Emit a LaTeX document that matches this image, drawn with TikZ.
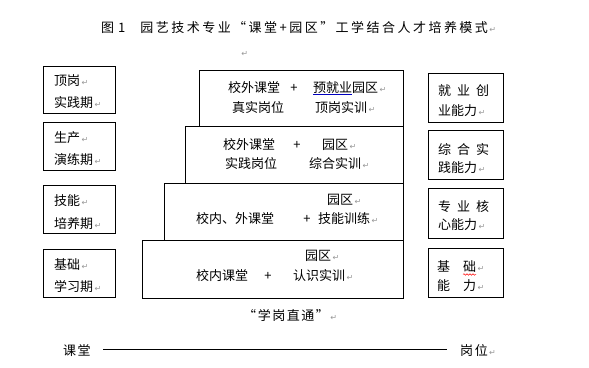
\documentclass[tikz,border=0pt]{standalone}
\usepackage{fontspec}
\setmainfont{Noto Sans CJK SC}
\newfontfamily\titlefont[LetterSpace=19]{Noto Sans CJK SC}
\newfontfamily\widefont[LetterSpace=12]{Noto Sans CJK SC}
\newfontfamily\markfont{DejaVu Sans}
\usetikzlibrary{decorations.pathmorphing}
\definecolor{retgray}{RGB}{150,150,150}
\newcommand\rmk{{\markfont\fontsize{8}{8}\selectfont\color{retgray}\,↵}}
\begin{document}
\begin{tikzpicture}[x=1pt,y=-1pt,
  box/.style={draw, line width=0.8pt, inner sep=0pt, anchor=north west},
  txt/.style={inner sep=0pt, anchor=base west, font=\fontsize{13}{15}\selectfont},
  wtxt/.style={inner sep=0pt, anchor=base west, font=\widefont\fontsize{13}{15}\selectfont},
  ttxt/.style={inner sep=0pt, anchor=base west, font=\titlefont\fontsize{13}{15}\selectfont},
  plus/.style={inner sep=0pt, anchor=base, font=\fontsize{13}{15}\selectfont},
  axis/.style={line width=0.8pt}]
\useasboundingbox (0,0) rectangle (589,367);

% title
\node[ttxt] (title) at (101,32) {图\hspace{4pt}1\hspace{15pt}园艺技术专业“课堂+园区”工学结合人才培养模式\rmk};
\node[inner sep=0pt] (m0) at (244,54) {\rmk};

% stair boxes
\node[box, minimum width=204pt, minimum height=56pt] (sA) at (199,70) {};
\node[box, minimum width=218pt, minimum height=57pt] (sB) at (185,126) {};
\node[box, minimum width=239pt, minimum height=57pt] (sC) at (164,183) {};
\node[box, minimum width=261pt, minimum height=58pt] (sD) at (142,240) {};

% left boxes
\node[box, minimum width=72pt, minimum height=47pt] (L1) at (43,66) {};
\node[box, minimum width=72pt, minimum height=48pt] (L2) at (43,122) {};
\node[box, minimum width=72pt, minimum height=48pt] (L3) at (43,185) {};
\node[box, minimum width=72pt, minimum height=48pt] (L4) at (43,249) {};

% right boxes
\node[box, minimum width=75pt, minimum height=49pt] (R1) at (428,73) {};
\node[box, minimum width=75pt, minimum height=49pt] (R2) at (428,130) {};
\node[box, minimum width=75pt, minimum height=50pt] (R3) at (428,188) {};
\node[box, minimum width=75pt, minimum height=49pt] (R4) at (428,248) {};

% box A texts
\node[txt] (a1) at (228,92) {校外课堂};
\node[plus] (a2) at (294,92) {+};
\node[txt] (a3) at (313,92) {预就业园区\rmk};
\node[txt] (a4) at (232,112) {真实岗位};
\node[txt] (a5) at (315,112) {顶岗实训\rmk};
\draw[blue!75!black, line width=0.6pt] (313,94.5) -- (352,94.5);

% box B texts
\node[txt] (b1) at (223,149) {校外课堂};
\node[plus] (b2) at (297,149) {+};
\node[txt] (b3) at (322,149) {园区\rmk};
\node[txt] (b4) at (225,168) {实践岗位};
\node[txt] (b5) at (309,168) {综合实训\rmk};

% box C texts
\node[txt] (c1) at (327,204) {园区\rmk};
\node[txt] (c2) at (196,223) {校内、外课堂};
\node[plus] (c3) at (307,223) {+};
\node[txt] (c4) at (318,223) {技能训练\rmk};

% box D texts
\node[txt] (d1) at (305,260) {园区\rmk};
\node[txt] (d2) at (196,280) {校内课堂};
\node[plus] (d3) at (268,280) {+};
\node[txt] (d4) at (293,280) {认识实训\rmk};

% left texts
\node[txt] (l1) at (54,85) {顶岗\rmk};
\node[txt] (l2) at (54,107) {实践期\rmk};
\node[txt] (l3) at (54,142) {生产\rmk};
\node[txt] (l4) at (54,164) {演练期\rmk};
\node[txt] (l5) at (54,205) {技能\rmk};
\node[txt] (l6) at (54,228) {培养期\rmk};
\node[txt] (l7) at (54,269) {基础\rmk};
\node[txt] (l8) at (54,291) {学习期\rmk};

% right texts
\node[txt] (r1) at (438,95) {就\hspace{6pt}业\hspace{6pt}创};
\node[txt] (r2) at (438,115) {业能力\rmk};
\node[txt] (r3) at (438,154) {综\hspace{6pt}合\hspace{6pt}实};
\node[txt] (r4) at (438,172) {践能力\rmk};
\node[txt] (r5) at (438,211) {专\hspace{6pt}业\hspace{6pt}核};
\node[txt] (r6) at (438,229) {心能力\rmk};
\node[txt] (r7) at (437,271) {基\hspace{13pt}础\rmk};
\node[txt] (r8) at (437,290) {能\hspace{13pt}力\rmk};
\draw[red, line width=0.5pt, decorate, decoration={snake, amplitude=0.8pt, segment length=3pt}] (463,274.5) -- (476,274.5);

% bottom
\node[wtxt] (q) at (243,320) {“学岗直通”\rmk};
\node[wtxt] (k) at (63,355) {课堂};
\node[wtxt] (g) at (460,355) {岗位\rmk};
\coordinate (lL) at (103,349);
\coordinate (lR) at (447,349);
\draw[axis] (lL) -- (lR);
\end{tikzpicture}
\end{document}
